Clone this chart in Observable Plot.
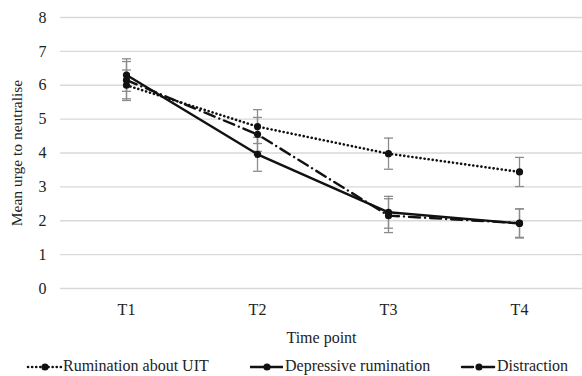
<!DOCTYPE html>
<html>
<head>
<meta charset="utf-8">
<script src="https://cdn.jsdelivr.net/npm/d3@7"></script>
<script src="https://cdn.jsdelivr.net/npm/@observablehq/plot@0.6"></script>
<style>
  html, body { margin: 0; padding: 0; background: #fff; }
  #wrap { position: relative; width: 582px; height: 376px; font-family: "Liberation Serif", "Times New Roman", serif; }
  #legend { position: absolute; left: 0; top: 355px; width: 582px; height: 22px; font-size: 16px; color: #222; }
  .item { position: absolute; top: 0; display: flex; align-items: center; white-space: nowrap; height: 22px; }
  .item svg { display: block; }
</style>
</head>
<body>
<div id="wrap">
  <div id="chart"></div>
  <div id="legend"></div>
</div>
<script>
const timePoints = ["T1", "T2", "T3", "T4"];
const seriesNames = ["Rumination about UIT", "Depressive rumination", "Distraction"];
const uitMean = [6.0, 4.78, 3.98, 3.44];
const uitErr  = [0.45, 0.5, 0.46, 0.43];
const depMean = [6.3, 3.96, 2.25, 1.92];
const depErr  = [0.48, 0.5, 0.47, 0.43];
const disMean = [6.15, 4.55, 2.15, 1.93];
const disErr  = [0.55, 0.5, 0.5, 0.42];
const yTicks = [0, 1, 2, 3, 4, 5, 6, 7, 8];
const xTitle = "Time point";
const yTitle = "Mean urge to neutralise";

const FONT = "Liberation Serif";
const dashes = {
  "Rumination about UIT": "0.1,4",
  "Depressive rumination": null,
  "Distraction": "11,5,0.1,5"
};

const means = [uitMean, depMean, disMean];
const errs = [uitErr, depErr, disErr];
const rows = [];
seriesNames.forEach((s, i) => timePoints.forEach((t, j) => {
  rows.push({series: s, time: t, mean: means[i][j], lo: means[i][j] - errs[i][j], hi: means[i][j] + errs[i][j]});
}));

const capSymbol = { draw(ctx) { ctx.moveTo(-4.5, 0); ctx.lineTo(4.5, 0); } };

const marks = [
  Plot.ruleY(yTicks, {stroke: "#d9d9d9", strokeWidth: 1.3, strokeOpacity: 1}),
  Plot.axisY(yTicks, {tickSize: 0, tickPadding: 14, fontSize: 16, fontFamily: FONT, fill: "#222", label: null}),
  Plot.axisX({tickSize: 0, tickPadding: 15, fontSize: 16, fontFamily: FONT, fill: "#222", label: null}),
  Plot.text([yTitle], {frameAnchor: "left", rotate: -90, dx: -43, fontSize: 15.5, fontFamily: FONT, fill: "#222", textAnchor: "middle", lineAnchor: "middle"}),
  Plot.text([xTitle], {frameAnchor: "bottom", dy: 49, fontSize: 16, fontFamily: FONT, fill: "#222", textAnchor: "middle", lineAnchor: "middle"}),
  Plot.ruleX(rows, {x: "time", y1: "lo", y2: "hi", stroke: "#8c8c8c", strokeWidth: 1.3}),
  Plot.dot(rows, {x: "time", y: "lo", symbol: capSymbol, stroke: "#8c8c8c", strokeWidth: 1.3, fill: "none"}),
  Plot.dot(rows, {x: "time", y: "hi", symbol: capSymbol, stroke: "#8c8c8c", strokeWidth: 1.3, fill: "none"})
];
seriesNames.forEach(s => {
  const d = rows.filter(r => r.series === s);
  marks.push(Plot.line(d, {x: "time", y: "mean", stroke: "#111", strokeWidth: s === "Rumination about UIT" ? 2.6 : 2.4, strokeDasharray: dashes[s], strokeLinecap: dashes[s] ? "round" : "butt"}));
  marks.push(Plot.dot(d, {x: "time", y: "mean", r: 3.6, fill: "#111", stroke: "none"}));
});

const chart = Plot.plot({
  width: 582,
  height: 350,
  marginLeft: 60,
  marginRight: 0,
  marginTop: 17,
  marginBottom: 62,
  style: "font-family: 'Liberation Serif', serif; font-size: 16px; color: #222; background: #fff;",
  x: {type: "point", domain: timePoints, range: [125.5, 519.5], padding: 0},
  y: {domain: [0, 8]},
  marks
});
document.getElementById("chart").appendChild(chart);

// legend
const legendPos = [
  {left: 26, name: "Rumination about UIT"},
  {left: 248, name: "Depressive rumination"},
  {left: 460, name: "Distraction"}
];
const leg = document.getElementById("legend");
legendPos.forEach(p => {
  const div = document.createElement("div");
  div.className = "item";
  div.style.left = p.left + "px";
  const dash = dashes[p.name];
  const sw = d3.create("svg").attr("width", 37).attr("height", 22);
  sw.append("line").attr("x1", 2).attr("x2", 35).attr("y1", 12).attr("y2", 12)
    .attr("stroke", "#111").attr("stroke-width", p.name === "Rumination about UIT" ? 2.6 : 2.4)
    .attr("stroke-dasharray", dash).attr("stroke-linecap", dash ? "round" : "butt");
  sw.append("circle").attr("cx", 19).attr("cy", 12).attr("r", 3.6).attr("fill", "#111");
  div.appendChild(sw.node());
  const span = document.createElement("span");
  span.textContent = p.name;
  div.appendChild(span);
  leg.appendChild(div);
});
</script>
</body>
</html>
